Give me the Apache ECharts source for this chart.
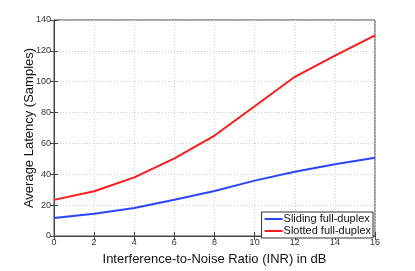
<!DOCTYPE html>
<html><head><meta charset="utf-8">
<script src="https://cdn.jsdelivr.net/npm/echarts@6/dist/echarts.min.js"></script>
<style>html,body{margin:0;padding:0;background:#fff}#c{width:415px;height:271px}</style>
</head><body><div id="c"></div>
<script>
const inr = [0, 2, 4, 6, 8, 10, 12, 14, 16];
const sliding = [11.6, 14.4, 18.2, 23.5, 29.2, 35.9, 41.6, 46.5, 50.7];
const slotted = [23.4, 29.0, 38.0, 50.3, 65.1, 84.1, 103.2, 116.9, 130.0];
const seriesNames = ['Sliding full-duplex', 'Slotted full-duplex'];
const xTitle = 'Interference-to-Noise Ratio (INR) in dB';
const yTitle = 'Average Latency (Samples)';

const chart = echarts.init(document.getElementById('c'));
const font = 'Liberation Sans, Arial, sans-serif';
const axisCol = '#444';
const gridStyle = {show: true, lineStyle: {color: '#cfcfcf', type: [1, 2], width: 1}};
chart.setOption({
  animation: false,
  grid: {left: 54, right: 40, top: 20, bottom: 30, show: true, borderColor: axisCol, borderWidth: 1},
  legend: {
    right: 42, bottom: 33, orient: 'vertical', backgroundColor: '#fff',
    borderColor: '#333', borderWidth: 1, padding: [1, 2, 1, 3], itemGap: 0,
    itemWidth: 18, itemHeight: 2, icon: 'rect',
    textStyle: {fontFamily: font, fontSize: 11, lineHeight: 12, color: '#111', padding: [0, 0, 0, -4]},
    data: seriesNames
  },
  xAxis: [{
    type: 'value', min: 0, max: 16, interval: 2,
    name: xTitle, nameLocation: 'middle', nameGap: 17, nameMoveOverlap: false,
    nameTextStyle: {fontFamily: font, fontSize: 13, color: '#111'},
    axisLine: {show: true, onZero: false, lineStyle: {color: axisCol}},
    axisTick: {inside: true, length: 4, lineStyle: {color: axisCol}},
    axisLabel: {fontFamily: font, fontSize: 9, color: '#333', margin: 2},
    splitLine: gridStyle
  }, {
    type: 'value', min: 0, max: 16, interval: 2, position: 'top',
    axisLine: {show: true, lineStyle: {color: axisCol}},
    axisTick: {inside: true, length: 4, lineStyle: {color: axisCol}},
    axisLabel: {show: false}, splitLine: {show: false}
  }],
  yAxis: [{
    type: 'value', min: 0, max: 140, interval: 20,
    name: yTitle, nameLocation: 'middle', nameGap: 18, nameMoveOverlap: false,
    nameTextStyle: {fontFamily: font, fontSize: 13, color: '#111'},
    axisLine: {show: true, onZero: false, lineStyle: {color: axisCol}},
    axisTick: {inside: true, length: 4, lineStyle: {color: axisCol}},
    axisLabel: {fontFamily: font, fontSize: 9, color: '#333', margin: 3},
    splitLine: gridStyle
  }, {
    type: 'value', min: 0, max: 140, interval: 20, position: 'right',
    axisLine: {show: true, lineStyle: {color: axisCol}},
    axisTick: {inside: true, length: 4, lineStyle: {color: axisCol}},
    axisLabel: {show: false}, splitLine: {show: false}
  }],
  series: [{
    name: seriesNames[0], type: 'line', symbol: 'none',
    data: inr.map((x, i) => [x, sliding[i]]),
    lineStyle: {color: '#2a45ff', width: 2}, itemStyle: {color: '#2a45ff'}
  }, {
    name: seriesNames[1], type: 'line', symbol: 'none',
    data: inr.map((x, i) => [x, slotted[i]]),
    lineStyle: {color: '#ff1a1a', width: 2}, itemStyle: {color: '#ff1a1a'}
  }]
});
</script></body></html>
